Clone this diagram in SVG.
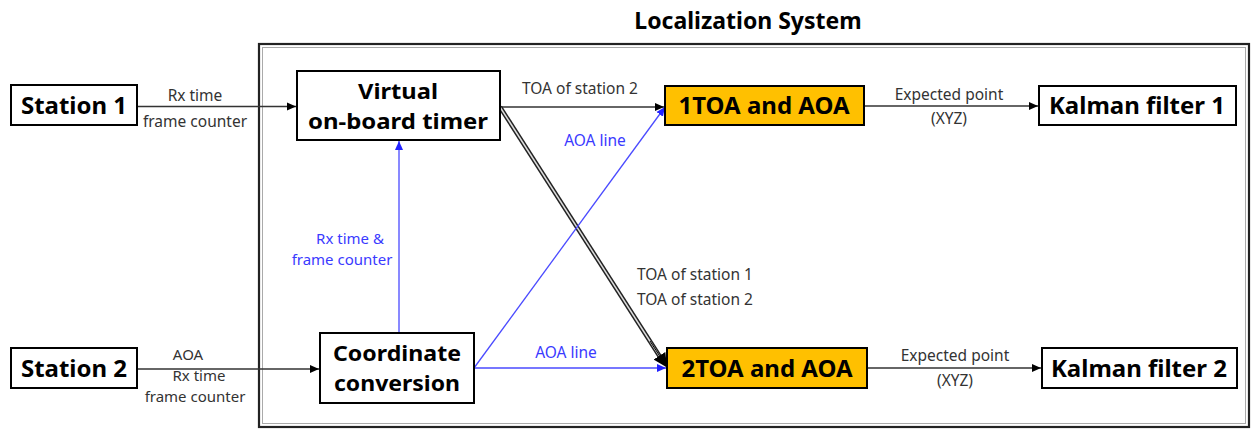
<svg xmlns="http://www.w3.org/2000/svg" width="1251" height="429" viewBox="0 0 1251 429">
<style>
.box{fill:#fff;stroke:#000;stroke-width:2}
.hl{fill:#FFC000;stroke:#000;stroke-width:2}
.nt{font-family:"Noto Sans","Open Sans",sans-serif;font-weight:bold;font-size:24px;fill:#000;text-anchor:middle}
.n2{font-size:21.5px}
.lb{font-family:"Noto Sans","Open Sans",sans-serif;font-size:15.5px;fill:#333;text-anchor:middle}
.sm{font-size:15px}
.bl{fill:#3a3aff}
.ln{stroke:#333;stroke-width:1.3;fill:none}
.bln{stroke:#4a4aff;stroke-width:1.3;fill:none}
</style>
<defs>
<marker id="ak" markerWidth="10" markerHeight="10" refX="9" refY="5" orient="auto" markerUnits="userSpaceOnUse"><path d="M0,1 L9,5 L0,9 Z" fill="#000"/></marker>
<marker id="ab" markerWidth="10" markerHeight="10" refX="9" refY="5" orient="auto" markerUnits="userSpaceOnUse"><path d="M0,1 L9,5 L0,9 Z" fill="#2222ff"/></marker>
<marker id="abig" markerWidth="16" markerHeight="16" refX="14" refY="8" orient="auto" markerUnits="userSpaceOnUse"><path d="M0,1 L14,8 L0,15 Z" fill="#000"/></marker>
</defs>
<rect width="1251" height="429" fill="#fff"/>
<text x="748" y="29" class="nt" style="font-size:23px">Localization System</text>
<g id="system">
<rect x="259" y="44" width="990" height="383" fill="none" stroke="#222" stroke-width="2.2"/>
<rect x="262.5" y="47.5" width="983" height="376" fill="none" stroke="#aaa" stroke-width="1"/>
</g>
<g id="connectors">
<line class="ln" x1="137" y1="106.5" x2="296" y2="106.5" marker-end="url(#ak)"/>
<line class="ln" x1="500" y1="107" x2="664" y2="107" marker-end="url(#ak)"/>
<line class="ln" x1="864" y1="106" x2="1038" y2="106" marker-end="url(#ak)"/>
<line class="ln" x1="137" y1="369" x2="319" y2="369" marker-end="url(#ak)"/>
<line class="ln" x1="867" y1="368" x2="1041" y2="368" marker-end="url(#ak)"/>
<line x1="500" y1="107" x2="662" y2="360" stroke="#222" stroke-width="4.5"/>
<line x1="500" y1="107" x2="662" y2="360" stroke="#ddd" stroke-width="1.5"/>
<line x1="650" y1="341" x2="667" y2="367.5" stroke="#000" stroke-width="1" marker-end="url(#abig)"/>
<line class="bln" x1="474" y1="368" x2="665" y2="107" marker-end="url(#ab)"/>
<line class="bln" x1="474" y1="368" x2="666" y2="368" marker-end="url(#ab)"/>
<line class="bln" x1="399" y1="333" x2="399" y2="141" marker-end="url(#ab)"/>
<text class="lb" x="195" y="101">Rx time</text>
<text class="lb" x="195" y="127">frame counter</text>
<text class="lb" x="580" y="94">TOA of station 2</text>
<text class="lb" x="949" y="100">Expected point</text>
<text class="lb" x="949" y="124">(XYZ)</text>
<text class="lb bl" x="595" y="146">AOA line</text>
<text class="lb sm bl" x="350" y="244">Rx time &amp;</text>
<text class="lb sm bl" x="342" y="264.5">frame counter</text>
<text class="lb" x="637" y="280" style="text-anchor:start">TOA of station 1</text>
<text class="lb" x="637" y="305" style="text-anchor:start">TOA of station 2</text>
<text class="lb bl" x="566" y="358">AOA line</text>
<text class="lb sm" x="188" y="359.5">AOA</text>
<text class="lb sm" x="199" y="381">Rx time</text>
<text class="lb sm" x="195" y="402">frame counter</text>
<text class="lb" x="955" y="361">Expected point</text>
<text class="lb" x="955" y="386">(XYZ)</text>
</g>
<g id="station1"><rect class="box" x="11" y="85" width="126" height="40"/><text class="nt" x="74" y="114">Station 1</text></g>
<g id="timer"><rect class="box" x="297" y="71" width="203" height="69"/><text class="nt n2" x="398" y="99" textLength="80" lengthAdjust="spacingAndGlyphs">Virtual</text><text class="nt n2" x="398" y="128.5" textLength="180" lengthAdjust="spacingAndGlyphs">on-board timer</text></g>
<g id="toa1"><rect class="hl" x="665" y="86" width="199" height="39"/><text class="nt" x="764" y="114">1TOA and AOA</text></g>
<g id="kalman1"><rect class="box" x="1039" y="86" width="197" height="39"/><text class="nt" x="1137" y="114">Kalman filter 1</text></g>
<g id="station2"><rect class="box" x="11" y="348" width="126" height="40"/><text class="nt" x="74" y="377">Station 2</text></g>
<g id="coord"><rect class="box" x="320" y="333" width="154" height="70"/><text class="nt n2" x="397" y="361" textLength="128" lengthAdjust="spacingAndGlyphs">Coordinate</text><text class="nt n2" x="397" y="390.5" textLength="126" lengthAdjust="spacingAndGlyphs">conversion</text></g>
<g id="toa2"><rect class="hl" x="667" y="348" width="200" height="40"/><text class="nt" x="767" y="377">2TOA and AOA</text></g>
<g id="kalman2"><rect class="box" x="1042" y="348" width="195" height="40"/><text class="nt" x="1139" y="377">Kalman filter 2</text></g>
</svg>
